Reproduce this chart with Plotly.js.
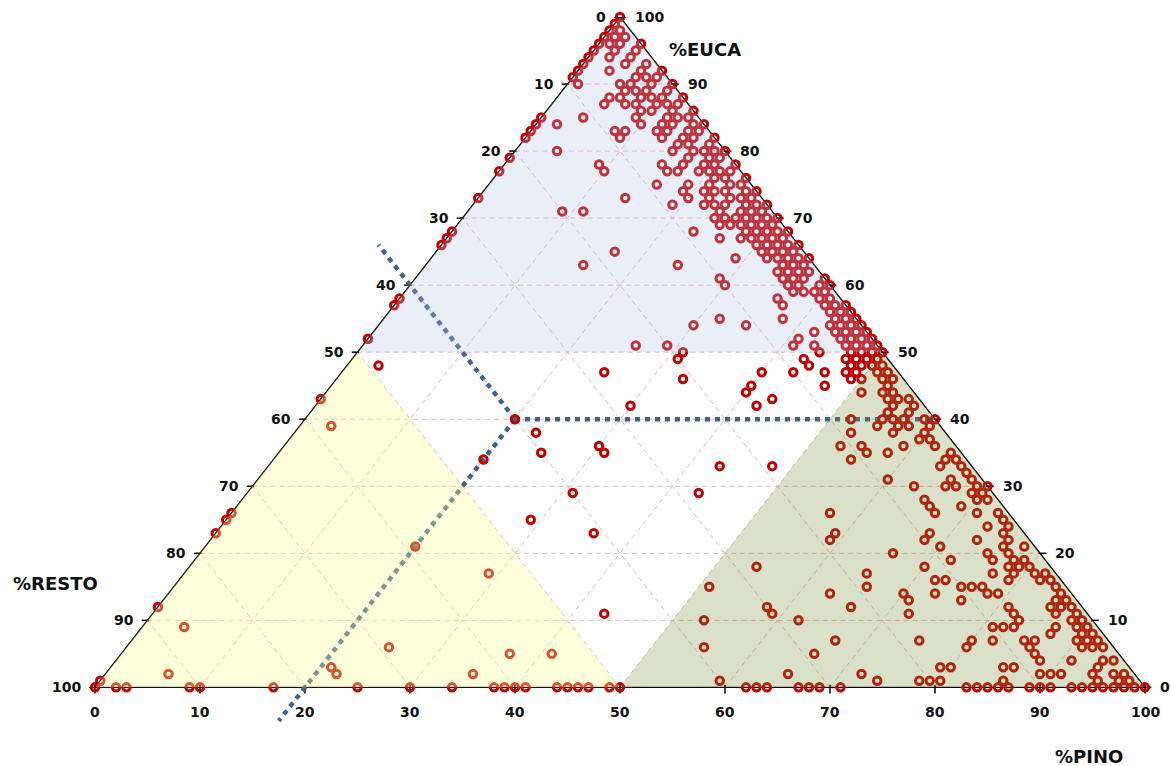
<!DOCTYPE html>
<html><head><meta charset="utf-8">
<script src="https://cdn.plot.ly/plotly-3.0.1.min.js"></script>
<style>html,body{margin:0;padding:0;background:#fff}</style>
</head><body><div id="chart" style="width:1171px;height:766px"></div>
<script>
// %EUCA level of each row of samples, and the %RESTO values of the samples on that row
const eucaLevels = [0,1,2,3,4,5,6,7,8,9,10,11,12,13,14,15,16,17,18,19,20,21,22,23,24,25,26,27,28,29,30,31,32,33,34,35,36,37,38,39,40,41,42,43,44,45,46,47,48,49,50,51,52,53,54,55,56,57,58,59,60,61,62,63,64,65,66,67,68,69,70,71,72,73,74,75,76,77,78,79,80,81,82,83,84,85,86,87,88,89,90,91,92,93,94,95,96,97,98,99,100];
const restoAtLevel = [
 [100,98,97,91,90,83,75,70,66,62,61,60,59,56,55,54,53,51,50,38,37,36,33,32,31,29,17,16,15,14,13,11,10,9,7,6,5,4,3,2,1,0],
 [99,40,25,21,20,19,13,4,2,1],
 [92,76,63,33,26,9,8,7,4,2,1],
 [76,18,17,12,11,3],
 [8,5,2,1],
 [58,54,29,8],
 [69,39,14,8,3,2,1],
 [26,18,13,11,8,7,3,2,1],
 [5,2,1],
 [87,10,9,8,4,2,1],
 [37,28,7,2,1],
 [46,30,17,7,3,1],
 [88,30,22,7,3,2,1],
 [16,11,2,1],
 [23,16,13,8,7,1],
 [34,19,10,9,8,1],
 [12,11,5,2,1],
 [54,18,6,4,2,1],
 [28,12,4,3,2],
 [9,5,3,2],
 [14,5,3],
 [59,9,3,1],
 [19,10,5,2],
 [77,41,18,9,2],
 [3,1],
 [75,46,1],
 [74,17,7,3,1],
 [7,4],
 [7,2,1],
 [40,28,2,1],
 [7,4,3,1,0],
 [9,3,1],
 [1],
 [24,19,3,1],
 [46,11,2,1],
 [40,34,9,7,1],
 [34,11,9,5,2],
 [3,2],
 [39,9,5,2],
 [58,6,4,3,1],
 [40,8,5,4,3,1,0],
 [4,2],
 [28,16,3,1],
 [57,14,3,2,1],
 [16,5,3,2],
 [15,8,2],
 [21,5,4,2,1],
 [28,13,10,7,5,4,2,1],
 [49,8,4,3,2,1],
 [20,8,4,3,2,1],
 [19,6,3,2,1,0],
 [23,20,8,6,3,2,1,0],
 [48,7,3,2,1,0],
 [5,3,2,1,0],
 [16,11,3,2,1,0],
 [13,7,2,1,0],
 [2,1,0],
 [43,6,2,1,0],
 [42,6,2,1],
 [4,3,2,1],
 [10,4,3,1,0],
 [10,4,3,2,0],
 [4,3,2,1],
 [22,13,3,2,1],
 [7,0,1,2,3,4],
 [18,1,2,3,4],
 [34,0,1,2,3,4],
 [33,7,1,2,3,4,5],
 [32,9,0,1,2,3,4],
 [6,1,2,3,4,5],
 [5,0,1,2,3,4,6],
 [20,18,1,2,3,5],
 [9,0,1,2,4,5,6],
 [27,13,7,1,2,3,5],
 [7,0,1,3,4,5],
 [9,6,1,2,4],
 [0,2,3],
 [23,13,7,6,1,2,3,4],
 [13,7,0,2,3,5],
 [21,1,2,4],
 [16,0,1,2,3,5],
 [1,3,4],
 [18,9,0,2,3,5],
 [17,9,8,1,2,4,5],
 [16,14,6,0,1,3,4],
 [15,11,1,2,3,6],
 [0,2,4,5],
 [8,1,2,3,5,6],
 [7,0,2,3,4,6],
 [1,3,4,5],
 [9,0,2,4,5],
 [9,1,2,3],
 [8,5,0,2],
 [7,1,3],
 [6,2,4],
 [5,1,3],
 [4,0,2,3],
 [3,1,2],
 [2,1],
 [1],
 [0]
];

// dotted guide lines: %PINO = 20, %EUCA = 40, %RESTO = 40, meeting at one point
const guidePino = 20, guideEuca = 40, guideResto = 40;
const guideTopEuca = 66;     // where the %RESTO guide stops (beyond the left side)
const guideBottomEuca = -5;  // where the %PINO guide stops (below the base)

const axisTicks = [0,10,20,30,40,50,60,70,80,90,100];
const zoneSplit = 50;

// ternary -> plane (x along the base, y = %EUCA)
const tx = (p, e) => p + e / 2;
const ty = (p, e) => e;

const px = [], py = [];
eucaLevels.forEach((e, i) => {
  restoAtLevel[i].forEach(r => {
    const p = 100 - e - r;
    px.push(tx(p, e)); py.push(ty(p, e));
  });
});

// guide lines
const gx = [], gy = [];
function seg(p1, e1, p2, e2) { gx.push(tx(p1, e1), tx(p2, e2), null); gy.push(e1, e2, null); }
seg(guidePino, guideEuca, 100 - guideTopEuca - guideResto, guideTopEuca);
seg(guidePino, guideEuca, guidePino, guideBottomEuca);
seg(guidePino, guideEuca, 100 - guideEuca, guideEuca);

const shapes = [];
const gridLine = {color: '#e6b5b5', width: 1, dash: '5px,4px'};
for (let k = 10; k <= 90; k += 10) {
  shapes.push({type:'line', layer:'below', x0: tx(0,k), y0: k, x1: tx(100-k,k), y1: k, line: gridLine});
  shapes.push({type:'line', layer:'below', x0: tx(k,0), y0: 0, x1: tx(k,100-k), y1: 100-k, line: gridLine});
  shapes.push({type:'line', layer:'below', x0: tx(100-k,0), y0: 0, x1: tx(0,100-k), y1: 100-k, line: gridLine});
}
shapes.push({type:'path', layer:'below', path:`M ${tx(0,0)},0 L ${tx(100,0)},0 L ${tx(0,100)},100 Z`, line:{color:'#000', width:1.4}});
axisTicks.forEach(k => {
  const xl = tx(0, k), xr = tx(100 - k, k);
  shapes.push({type:'line', layer:'below', x0: xl - 0.55, y0: k, x1: xl + 0.15, y1: k, line:{color:'#000', width:1.5}});
  shapes.push({type:'line', layer:'below', x0: xr - 0.15, y0: k, x1: xr + 0.6, y1: k, line:{color:'#000', width:1.5}});
  shapes.push({type:'line', layer:'below', x0: k, y0: 0.4, x1: k, y1: -0.9, line:{color:'#000', width:1.5}});
});
const h = zoneSplit;
shapes.push({type:'path', layer:'above', path:`M ${tx(0,h)},${h} L ${tx(100-h,h)},${h} L ${tx(0,100)},100 Z`, fillcolor:'rgba(176,192,226,0.27)', line:{width:0}});
shapes.push({type:'path', layer:'above', path:`M ${tx(0,0)},0 L ${tx(h,0)},0 L ${tx(0,h)},${h} Z`, fillcolor:'rgba(255,255,150,0.33)', line:{width:0}});
shapes.push({type:'path', layer:'above', path:`M ${tx(h,0)},0 L ${tx(100,0)},0 L ${tx(h,h)},${h} Z`, fillcolor:'rgba(122,144,57,0.27)', line:{width:0}});

const numFont = {family:'DejaVu Sans', size:14, color:'#111', weight:'bold'};
const titleFont = {family:'DejaVu Sans', size:18, color:'#111', weight:'bold'};
const annotations = [];
axisTicks.forEach(k => {
  annotations.push({x: tx(0,k), y: k, text: String(100 - k), showarrow:false, xanchor:'right', yanchor:'middle', xshift:-12, font:numFont});
  annotations.push({x: tx(100-k,k), y: k, text: String(k), showarrow:false, xanchor:'left', yanchor:'middle', xshift:13, font:numFont});
  annotations.push({x: k, y: 0, text: String(k), showarrow:false, xanchor:'center', yanchor:'middle', yshift:-25, font:numFont});
});
// axis titles placed in page pixels (converted to paper fractions)
const W = 1171, H = 766, mL = 53, mR = 5, mT = 17, mB = 25.4;
const pw = W - mL - mR, ph = H - mT - mB;
const paperX = v => (v - mL) / pw, paperY = v => (H - mB - v) / ph;
annotations.push({xref:'paper', yref:'paper', x: paperX(705), y: paperY(49), text:'%EUCA', showarrow:false, xanchor:'center', yanchor:'middle', font:titleFont});
annotations.push({xref:'paper', yref:'paper', x: paperX(55), y: paperY(583), text:'%RESTO', showarrow:false, xanchor:'center', yanchor:'middle', font:titleFont});
annotations.push({xref:'paper', yref:'paper', x: paperX(1089), y: paperY(756), text:'%PINO', showarrow:false, xanchor:'center', yanchor:'middle', font:titleFont});

const traces = [
  {type:'scatter', mode:'lines', x: gx, y: gy, hoverinfo:'skip', line:{color:'#3f6391', width:4.5, dash:'5px,5px'}},
  {type:'scatter', mode:'markers', x: px, y: py, cliponaxis:false, hoverinfo:'skip',
   marker:{symbol:'circle-open', size:7.5, color:'#c00000', line:{width:3, color:'#c00000'}}}
];

const layout = {
  width:W, height:H, autosize:false, showlegend:false,
  paper_bgcolor:'#fff', plot_bgcolor:'#fff',
  margin:{l:mL, r:mR, t:mT, b:mB, pad:0},
  xaxis:{range:[-4,102], visible:false, fixedrange:true},
  yaxis:{range:[-8,100], visible:false, fixedrange:true},
  shapes, annotations
};
Plotly.newPlot('chart', traces, layout, {displayModeBar:false, staticPlot:true});
</script></body></html>
